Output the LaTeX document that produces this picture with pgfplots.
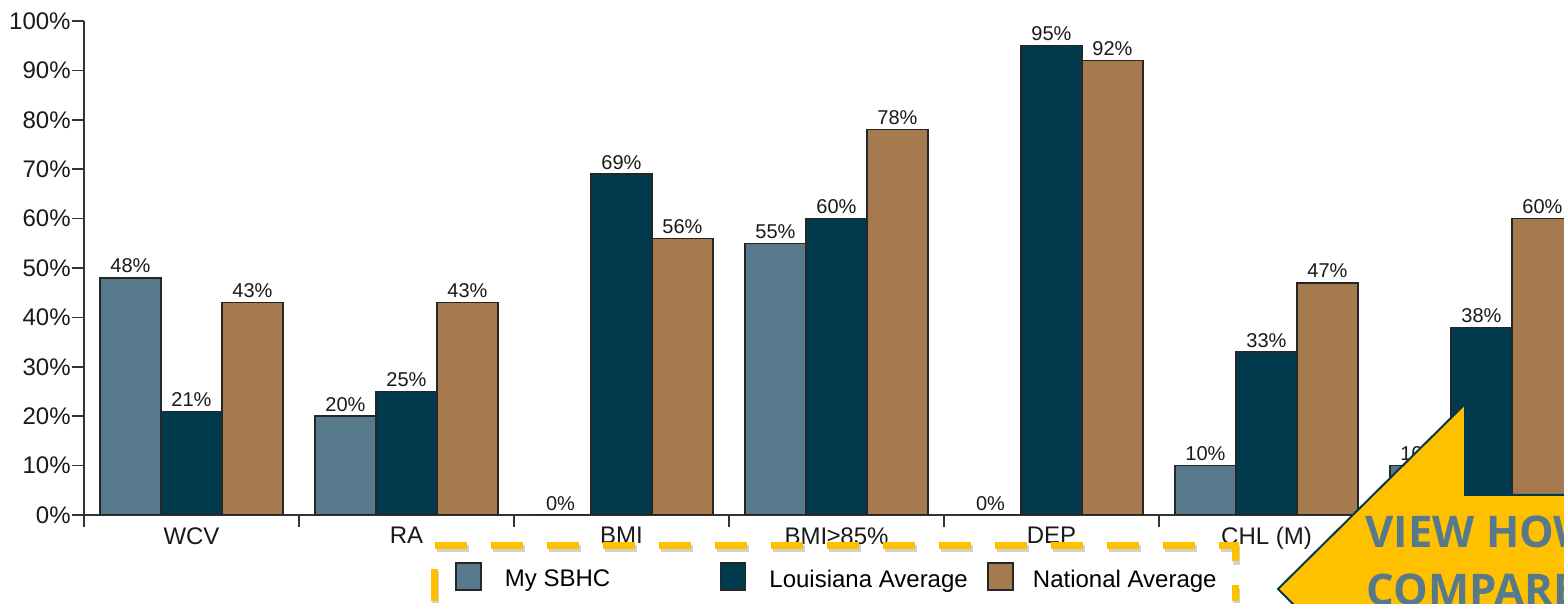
\documentclass[border=0pt]{standalone}
\usepackage{pgfplots}
\pgfplotsset{compat=1.18}
\usepackage{fontspec}
\setmainfont{Liberation Sans}
\newfontfamily\arrowfont{Open Sans}
\definecolor{sbhc}{HTML}{56798B}
\definecolor{lou}{HTML}{003A4C}
\definecolor{nat}{HTML}{A57A4F}
\definecolor{gold}{HTML}{FFC000}

\begin{document}
\begin{tikzpicture}
\begin{axis}[
  scale only axis, width=740pt, height=247pt,
  at={(0pt,0pt)}, anchor=south west,
  xmin=-0.5, xmax=6.3837, ymin=0, ymax=100,
  ybar=0pt, bar width=30.5pt,
  /pgf/number format/assume math mode=true,
  axis x line*=bottom, axis y line*=left,
  tick align=outside, major tick length=6pt,
  axis line style={black!80, line width=0.75pt},
  tick style={black!80, line width=0.75pt},
  xtick={-0.5,0.5,1.5,2.5,3.5,4.5,5.5,6.5},
  x tick label as interval,
  xticklabels={WCV,RA,BMI,BMI≥85\%,DEP,CHL (M),CHL (F)},
  ytick={0,10,20,30,40,50,60,70,80,90,100},
  yticklabels={0\%,10\%,20\%,30\%,40\%,50\%,60\%,70\%,80\%,90\%,100\%},
  ticklabel style={font=\fontsize{12}{14}\selectfont, text=black!90},
  yticklabel style={inner sep=0pt, xshift=-0.5pt},
  xticklabel style={inner sep=0pt},
  nodes near coords={\pgfmathprintnumber[fixed,precision=0,assume math mode=true]{\pgfplotspointmeta}\%},
  every node near coord/.append style={font=\fontsize{10}{12}\selectfont, inner sep=0pt, yshift=2pt, text=black!90},
  legend columns=3,
  legend cell align=left,
  legend style={at={(0.2507,-0.1245)}, anchor=west, draw=none, fill=none, inner sep=0pt,
    /tikz/column sep=0pt, font=\fontsize{12}{14}\selectfont, nodes={inner sep=0pt}},
  legend image code/.code={\draw[#1, draw=black!85, line width=0.75pt] (0pt,-5pt) rectangle (12.5pt,8.5pt);},
]
\addplot[fill=sbhc, draw=black!85, line width=0.75pt] coordinates {(0,48) (1,20) (2,0) (3,55) (4,0) (5,10) (6,10)};
\addlegendentry{\makebox[119pt][l]{\hspace*{11.5pt}My SBHC}}
\addplot[fill=lou, draw=black!85, line width=0.75pt] coordinates {(0,21) (1,25) (2,69) (3,60) (4,95) (5,33) (6,38)};
\addlegendentry{\makebox[120.5pt][l]{\hspace*{11.5pt}Louisiana Average}}
\addplot[fill=nat, draw=black!85, line width=0.75pt] coordinates {(0,43) (1,43) (2,56) (3,78) (4,92) (5,47) (6,60)};
\addlegendentry{\hspace*{9.5pt}National Average}
\end{axis}
% dashed legend frame
\draw[black!40, opacity=0.45, line width=3.5pt, dash pattern=on 16pt off 12pt]
  (175.5pt,-44pt) -- (175.5pt,-16.75pt) -- (576pt,-16.75pt) -- (576pt,-44pt);
\draw[gold, line width=3.5pt, dash pattern=on 16pt off 12pt]
  (175pt,-43pt) -- (175pt,-15.25pt) -- (575.5pt,-15.25pt) -- (575.5pt,-43pt);
% arrow callout
\filldraw[fill=gold, draw=lou, line width=1pt]
  (597pt,-37pt) -- (690.5pt,55.5pt) -- (690.5pt,10pt) -- (800pt,10pt)
  -- (800pt,-90pt) -- (650pt,-90pt) -- cycle;
\node[anchor=base west, inner sep=0pt, text=sbhc, font=\arrowfont\bfseries\fontsize{21.8}{23}\selectfont]
  at (640.5pt,-16.5pt) {VIEW HOW};
\node[anchor=base west, inner sep=0pt, text=sbhc, font=\arrowfont\bfseries\fontsize{21.8}{23}\selectfont]
  at (641pt,-45.5pt) {COMPARE};
\pgfresetboundingbox
\useasboundingbox (-42pt,-44.5pt) rectangle (740pt,257.5pt);
\end{tikzpicture}
\end{document}
